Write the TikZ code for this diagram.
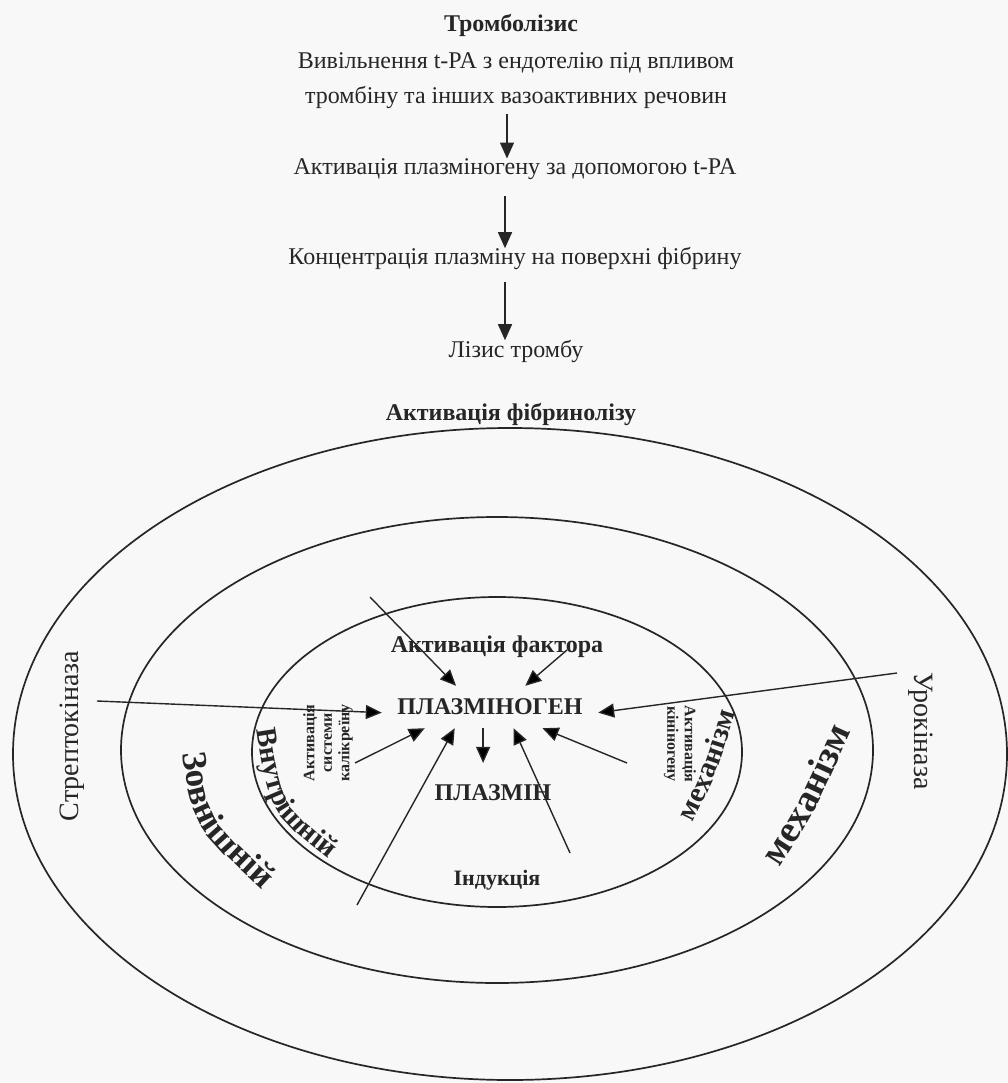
\documentclass[tikz,border=0pt]{standalone}
\usepackage{fontspec}
\setmainfont{Liberation Serif}
\usetikzlibrary{arrows.meta,decorations.text}
\definecolor{ink}{HTML}{262626}
\definecolor{paper}{HTML}{F8F8F8}

\begin{document}
\begin{tikzpicture}[x=1pt,y=-1pt,
  every node/.style={inner sep=0pt,text=ink},
  flow/.style={font=\fontsize{24}{35}\selectfont,align=center,inner ysep=4pt},
  head/.style={font=\bfseries\fontsize{24}{28}\selectfont},
  core/.style={font=\bfseries\fontsize{24}{28}\selectfont},
  agent/.style={font=\fontsize{28}{32}\selectfont},
  side/.style={font=\bfseries\fontsize{16}{17.5}\selectfont,align=center},
  ring/.style={draw=ink,line width=1.7pt},
  arr/.style={draw=ink,line width=1.4pt,-{Triangle[length=16pt,width=14pt]}},
  curved/.style={decorate,decoration={text along path,text align=center,text color=ink}},
]
\fill[paper] (0,0) rectangle (1008,1083);
\useasboundingbox (0,0) rectangle (1008,1083);

% ---- thrombolysis chain ----
\node[head,anchor=base] (t0) at (511,32) {Тромболізис};
\node[flow] (t1) at (516,81) {Вивільнення t-PA з ендотелію під впливом\\тромбіну та інших вазоактивних речовин};
\node[flow,anchor=base] (t2) at (515,175) {Активація плазміногену за допомогою t-PA};
\node[flow,anchor=base] (t3) at (515,264) {Концентрація плазміну на поверхні фібрину};
\node[flow,anchor=base] (t4) at (516,357) {Лізис тромбу};

\draw[arr,shorten <=1pt,shorten >=-3.6pt] ([xshift=-9pt]t1.south) -- ([xshift=-8pt]t2.north);
\draw[arr,shorten <=11.8pt,shorten >=-5.6pt] ([xshift=-10pt]t2.south) -- ([xshift=-10pt]t3.north);
\draw[arr,shorten <=8.8pt,shorten >=-4.6pt] ([xshift=-10pt]t3.south) -- ([xshift=-11pt]t4.north);

% ---- activation of fibrinolysis ----
\node[head,anchor=base] (af) at (511,420) {Активація фібринолізу};

\draw[ring] (510,754) ellipse [x radius=497, y radius=326];
\draw[ring] (497,750) ellipse [x radius=376, y radius=233];
\draw[ring] (497,752) ellipse [x radius=245, y radius=155];

\node[core,anchor=base] (fa) at (497,652) {Активація фактора};
\node[core,minimum width=216pt,minimum height=42pt] (pg) at (490,707) {ПЛАЗМІНОГЕН};
\node[core,anchor=base,inner ysep=21pt] (pm) at (493,800) {ПЛАЗМІН};
\node[core,font=\bfseries\fontsize{22}{26}\selectfont,anchor=base] (ind) at (497,885) {Індукція};

\node[agent,rotate=90] (strep) at (72,736) {Стрептокіназа};
\node[agent,rotate=-90] (uro) at (921,731) {Урокіназа};
\node[side,rotate=90] (kal) at (328,743) {Активація\\системи\\калікреїну};
\node[side,rotate=-90] (kin) at (680,744) {Активація\\кініногену};

% ring labels set along the curves
\path[curved,decoration={text={|\bfseries\fontsize{35}{40}\selectfont|Зовнішній}}]
  (179.6,726) -- (182,746) .. controls (191.7,825) .. (268,895) -- (282.7,908.6);
\path[curved,decoration={text={|\bfseries\fontsize{29}{34}\selectfont|Внутрішній}}]
  (253.7,709.2) -- (256,724) .. controls (269.8,813) .. (333,862) -- (344.9,871.2);
\path[curved,decoration={text={|\bfseries\fontsize{29}{34}\selectfont|механізм}}]
  (685.4,837.5) -- (692,824) .. controls (716.7,773.5) .. (736,711) -- (740.4,696.7);
\path[curved,decoration={text={|\bfseries\fontsize{38}{44}\selectfont|механізм}}]
  (770.8,880.6) -- (779,868) .. controls (813.5,815) .. (852,730) -- (858.2,716.3);

% arrow tails
\coordinate (s1) at (370,597);
\coordinate (s2) at (567,650);
\coordinate (s3) at (97,701);
\coordinate (s4) at (897,673);
\coordinate (s5) at (355,763);
\coordinate (s6) at (357,905);
\coordinate (s7) at (570,853);
\coordinate (s8) at (627,763);

\draw[arr] (s1) -- (pg.148);
\draw[arr] (s2) -- (pg.31);
\draw[arr] (s3) -- (pg.183);
\draw[arr] (s4) -- (pg.357);
\draw[arr] (s5) -- (pg.198);
\draw[arr] (s6) -- (pg.211);
\draw[arr] (s7) -- (pg.318);
\draw[arr] (s8) -- (pg.338);
\draw[arr] (pg.252) -- (pg.252 |- pm.north);
\end{tikzpicture}
\end{document}
